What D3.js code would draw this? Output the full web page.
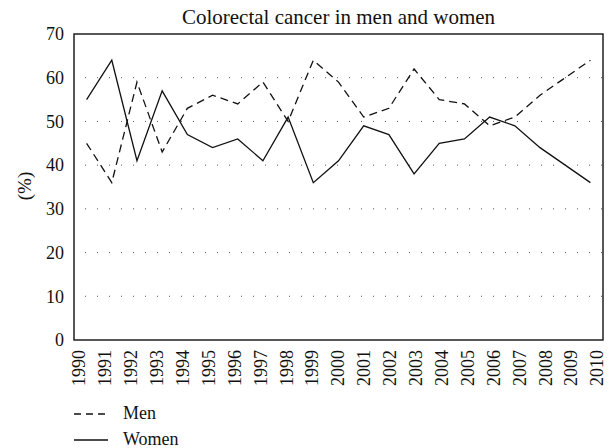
<!DOCTYPE html>
<html>
<head>
<meta charset="utf-8">
<script src="https://cdn.jsdelivr.net/npm/d3@7"></script>
<style>
  body { margin: 0; background: #fff; }
  svg { display: block; font-family: "Liberation Serif", "DejaVu Serif", serif; }
</style>
</head>
<body>
<div id="chart"></div>
<script>
const years = d3.range(1990, 2011).map(String);
const men =   [45, 36, 59, 43, 53, 56, 54, 59, 50, 64, 59, 51, 53, 62, 55, 54, 49, 51, 56, 60, 64];
const women = [55, 64, 41, 57, 47, 44, 46, 41, 51, 36, 41, 49, 47, 38, 45, 46, 51, 49, 44, 40, 36];
const yTicks = [0, 10, 20, 30, 40, 50, 60, 70];
const gridTicks = [10, 20, 30, 40, 50, 60];
const seriesNames = ["Men", "Women"];

const width = 610, height = 448;
const margin = {top: 34, right: 7, bottom: 108, left: 74};
const innerW = width - margin.left - margin.right;
const innerH = height - margin.top - margin.bottom;

const svg = d3.select("#chart").append("svg")
    .attr("width", width)
    .attr("height", height);

const x = d3.scaleBand().domain(years).range([margin.left, margin.left + innerW]);
const xLabel = d3.scalePoint().domain(years).range([margin.left + 5, margin.left + innerW - 6]);
const y = d3.scaleLinear().domain([0, 70]).range([margin.top + innerH, margin.top]);

// dotted grid lines
svg.append("g")
    .selectAll("line")
    .data(gridTicks)
    .enter().append("line")
    .attr("x1", margin.left)
    .attr("x2", margin.left + innerW)
    .attr("y1", d => y(d))
    .attr("y2", d => y(d))
    .attr("stroke", "#555")
    .attr("stroke-width", 1)
    .attr("stroke-dasharray", "1,11")
    .attr("stroke-dashoffset", -11);

// frame
svg.append("rect")
    .attr("x", margin.left)
    .attr("y", margin.top)
    .attr("width", innerW)
    .attr("height", innerH)
    .attr("fill", "none")
    .attr("stroke", "#111")
    .attr("stroke-width", 1.4);

// y axis labels
svg.append("g")
    .selectAll("text")
    .data(yTicks)
    .enter().append("text")
    .attr("x", margin.left - 10)
    .attr("y", d => y(d))
    .attr("dy", "0.35em")
    .attr("text-anchor", "end")
    .attr("font-size", 18)
    .attr("fill", "#111")
    .text(d => d);

// x axis labels (rotated)
svg.append("g")
    .selectAll("text")
    .data(years)
    .enter().append("text")
    .attr("transform", d => `translate(${xLabel(d)},${margin.top + innerH + 10}) rotate(-90)`)
    .attr("dy", "0.35em")
    .attr("text-anchor", "end")
    .attr("font-size", 18)
    .attr("fill", "#111")
    .text(d => d);

// y axis title
svg.append("text")
    .attr("transform", `translate(24,186) rotate(-90)`)
    .attr("dy", "0.35em")
    .attr("text-anchor", "middle")
    .attr("font-size", 19)
    .attr("fill", "#111")
    .text("(%)");

// title
svg.append("text")
    .attr("x", margin.left + innerW / 2)
    .attr("y", 24)
    .attr("text-anchor", "middle")
    .attr("font-size", 21)
    .attr("fill", "#111")
    .text("Colorectal cancer in men and women");

const line = d3.line()
    .x((d, i) => x(years[i]) + x.bandwidth() / 2)
    .y(d => y(d));

svg.append("path")
    .datum(men)
    .attr("d", line)
    .attr("fill", "none")
    .attr("stroke", "#111")
    .attr("stroke-width", 1.3)
    .attr("stroke-dasharray", "8,5");

svg.append("path")
    .datum(women)
    .attr("d", line)
    .attr("fill", "none")
    .attr("stroke", "#111")
    .attr("stroke-width", 1.3);

// legend
const legend = svg.append("g")
    .selectAll("g")
    .data(seriesNames)
    .enter().append("g")
    .attr("transform", (d, i) => `translate(${margin.left},${414 + i * 26})`);

legend.append("line")
    .attr("x1", 0)
    .attr("x2", 34)
    .attr("stroke", "#111")
    .attr("stroke-width", 1.3)
    .attr("stroke-dasharray", d => d === "Men" ? "7,5" : null);

legend.append("text")
    .attr("x", 49)
    .attr("dy", "0.3em")
    .attr("font-size", 18)
    .attr("fill", "#111")
    .text(d => d);
</script>
</body>
</html>
